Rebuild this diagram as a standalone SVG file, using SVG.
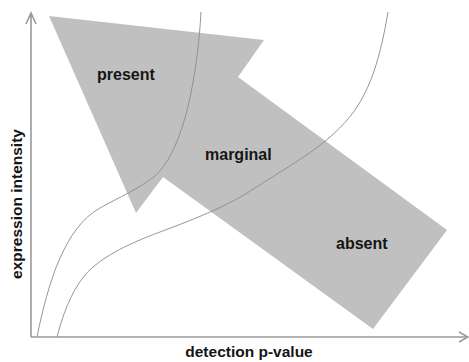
<svg xmlns="http://www.w3.org/2000/svg" width="469" height="362" viewBox="0 0 469 362">
  <style>
    .lbl { font-family: "Liberation Sans", Arial, sans-serif; font-weight: bold; font-size: 16px; fill: #151515; }
    .axis { fill: none; stroke: #9a9a9a; stroke-width: 1.6; }
    .curve { fill: none; stroke: #8a8a8a; stroke-width: 0.9; }
  </style>
  <rect width="469" height="362" fill="#ffffff"/>
  <g id="big-arrow">
    <polygon points="49,16 264,40 238,77 447,230 373,329 163,177 136,213" fill="#c0c0c0"/>
  </g>
  <g id="curves">
    <path class="curve" d="M37,337 C42,312 50,280 60,258 C70,236 82,218 100,208 C118,198 140,188 155,176 C168,164 177,145 185,118 C193,90 199,50 201,12"/>
    <path class="curve" d="M57,337 C62,318 70,293 85,275 C100,258 125,245 160,232 C195,219 230,205 255,188 C290,165 330,145 355,110 C370,88 380,60 388,12"/>
  </g>
  <g id="axes">
    <path class="axis" d="M31,337 L31,14 M26,24 L31,13 L36,24"/>
    <path class="axis" d="M31,337 L467,337 M459,332 L468,337 L459,342"/>
  </g>
  <g id="label-present"><text class="lbl" x="97" y="80">present</text></g>
  <g id="label-marginal"><text class="lbl" x="205" y="160">marginal</text></g>
  <g id="label-absent"><text class="lbl" x="336" y="249">absent</text></g>
  <g id="label-y"><text class="lbl" text-anchor="middle" transform="translate(22,204) rotate(-90)" style="font-size:15.5px">expression intensity</text></g>
  <g id="label-x"><text class="lbl" text-anchor="middle" x="249" y="357" style="font-size:15.5px">detection p-value</text></g>
</svg>
